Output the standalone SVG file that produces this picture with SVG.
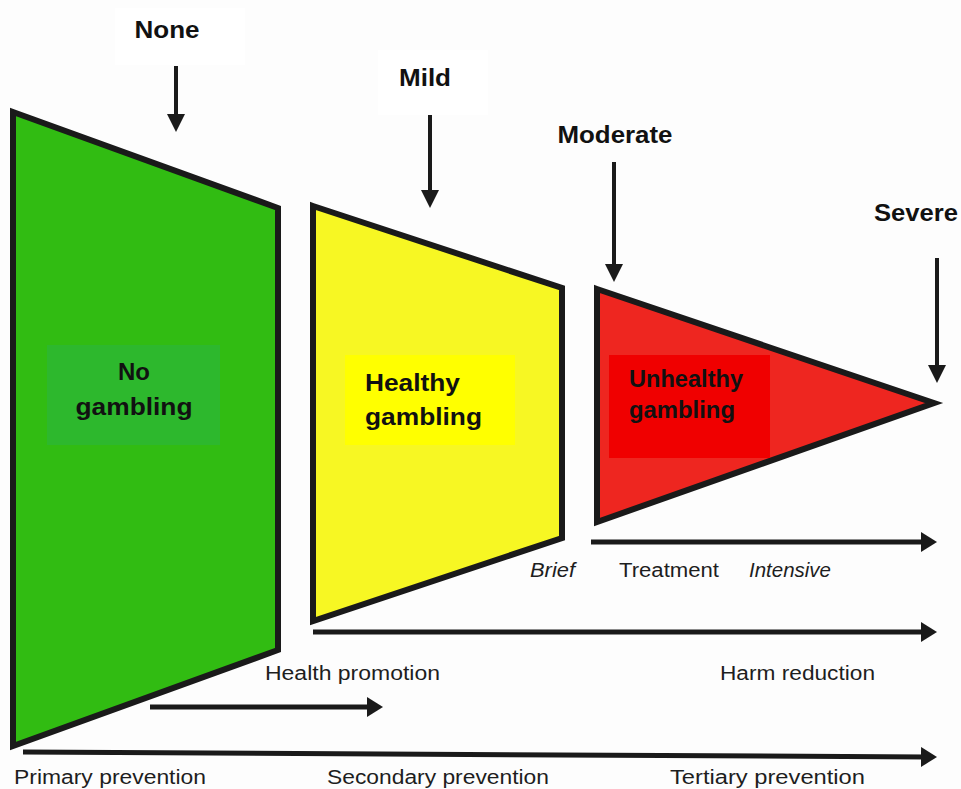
<svg xmlns="http://www.w3.org/2000/svg" width="961" height="789" viewBox="0 0 961 789">
<style>
.shape{stroke:#1a1a1a;stroke-width:6;stroke-linejoin:miter}
.lvl{font-family:"Liberation Sans",Arial,sans-serif;font-weight:bold;font-size:24px;fill:#111}
.nm{font-family:"Liberation Sans",Arial,sans-serif;font-weight:bold;font-size:24px;fill:#111}
.lab{font-family:"Liberation Sans",Arial,sans-serif;font-size:20px;fill:#1e1e1e}
.it{font-style:italic}
.dn{stroke:#1a1a1a;stroke-width:4;fill:none}
.hz{stroke:#1a1a1a;stroke-width:5;fill:none}
</style>
<defs>
<marker id="hd" markerUnits="userSpaceOnUse" viewBox="0 0 18 18" refX="8" refY="9" markerWidth="18" markerHeight="18" orient="auto">
<polygon points="0,0 18,9 0,18" fill="#1a1a1a"/>
</marker>
<marker id="hh" markerUnits="userSpaceOnUse" viewBox="0 0 16 20" refX="6" refY="10" markerWidth="16" markerHeight="20" orient="auto">
<polygon points="0,0 16,10 0,20" fill="#1a1a1a"/>
</marker>
</defs>
<rect width="961" height="789" fill="#fdfdfd"/>
<rect x="115" y="8" width="130" height="57" fill="#ffffff"/>
<rect x="378" y="50" width="110" height="65" fill="#ffffff"/>

<g id="no-gambling">
<polygon class="shape" points="13,112 278,208 278,650 13,746" fill="#31bc12"/>
<rect x="47" y="345" width="173" height="100" fill="#2db82d"/>
<text class="nm" x="134" y="380" text-anchor="middle">No</text>
<text class="nm" x="134" y="415" text-anchor="middle" textLength="117" lengthAdjust="spacingAndGlyphs">gambling</text>
</g>

<g id="healthy-gambling">
<polygon class="shape" points="313,206 562,288 562,538 313,621" fill="#f7f723"/>
<rect x="345" y="355" width="170" height="90" fill="#ffff00"/>
<text class="nm" x="365" y="391" textLength="95" lengthAdjust="spacingAndGlyphs">Healthy</text>
<text class="nm" x="365" y="425" textLength="117" lengthAdjust="spacingAndGlyphs">gambling</text>
</g>

<g id="unhealthy-gambling">
<polygon class="shape" points="597,289 934,403 597,522" fill="#ee2620"/>
<rect x="609" y="355" width="161" height="103" fill="#f00000"/>
<text class="nm" x="629" y="387" font-size="22" textLength="114" lengthAdjust="spacingAndGlyphs">Unhealthy</text>
<text class="nm" x="629" y="418" font-size="22" textLength="106" lengthAdjust="spacingAndGlyphs">gambling</text>
</g>

<g id="levels">
<text class="lvl" x="167" y="38" text-anchor="middle" textLength="65" lengthAdjust="spacingAndGlyphs">None</text>
<text class="lvl" x="425" y="86" text-anchor="middle" textLength="52" lengthAdjust="spacingAndGlyphs">Mild</text>
<text class="lvl" x="615" y="143" text-anchor="middle" textLength="115" lengthAdjust="spacingAndGlyphs">Moderate</text>
<text class="lvl" x="916" y="221" text-anchor="middle" textLength="84" lengthAdjust="spacingAndGlyphs">Severe</text>
</g>

<g id="connectors">
<line class="dn" x1="176" y1="66" x2="176" y2="122" marker-end="url(#hd)"/>
<line class="dn" x1="430" y1="115" x2="430" y2="198" marker-end="url(#hd)"/>
<line class="dn" x1="614" y1="162" x2="614" y2="272" marker-end="url(#hd)"/>
<line class="dn" x1="937" y1="258" x2="937" y2="373" marker-end="url(#hd)"/>
<line class="hz" x1="591" y1="542" x2="927" y2="542" marker-end="url(#hh)"/>
<line class="hz" x1="313" y1="632" x2="927" y2="632" marker-end="url(#hh)"/>
<line class="hz" x1="150" y1="707" x2="373" y2="707" marker-end="url(#hh)"/>
<line class="hz" x1="23" y1="752" x2="927" y2="757" marker-end="url(#hh)"/>
</g>

<g id="labels">
<text class="lab it" x="530" y="577" textLength="45" lengthAdjust="spacingAndGlyphs">Brief</text>
<text class="lab" x="619" y="577" textLength="100" lengthAdjust="spacingAndGlyphs">Treatment</text>
<text class="lab it" x="749" y="577" textLength="82" lengthAdjust="spacingAndGlyphs">Intensive</text>
<text class="lab" x="265" y="680" textLength="175" lengthAdjust="spacingAndGlyphs">Health promotion</text>
<text class="lab" x="720" y="680" textLength="155" lengthAdjust="spacingAndGlyphs">Harm reduction</text>
<text class="lab" x="14" y="784" textLength="192" lengthAdjust="spacingAndGlyphs">Primary prevention</text>
<text class="lab" x="327" y="784" textLength="222" lengthAdjust="spacingAndGlyphs">Secondary prevention</text>
<text class="lab" x="670" y="784" textLength="195" lengthAdjust="spacingAndGlyphs">Tertiary prevention</text>
</g>
</svg>
